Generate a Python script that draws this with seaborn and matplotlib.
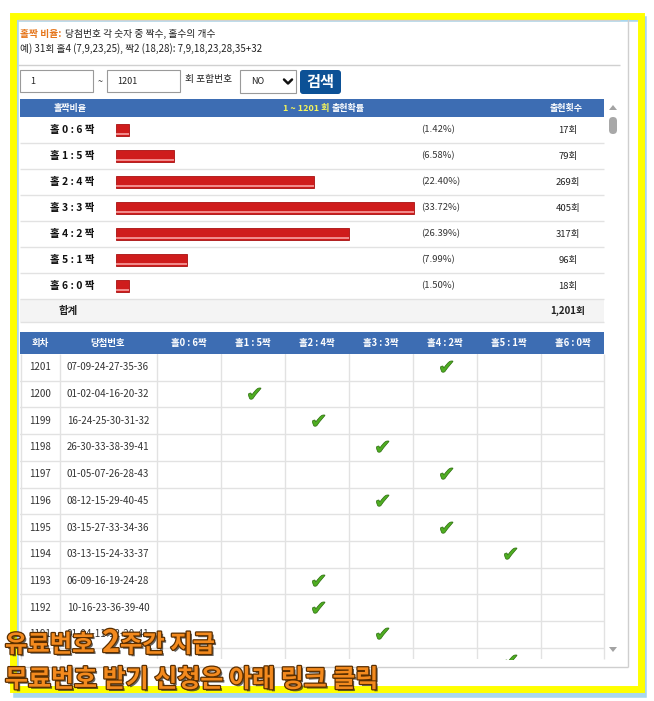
import matplotlib
matplotlib.use("Agg")
import matplotlib.pyplot as plt
import matplotlib.patheffects as pe
from matplotlib.patches import Rectangle, FancyBboxPatch, Polygon
from matplotlib.path import Path
from matplotlib.textpath import TextPath
from matplotlib.font_manager import FontProperties
from matplotlib.transforms import blended_transform_factory
import seaborn as sns

# ---- data ----
ratio_labels = ["홀 0 : 6 짝", "홀 1 : 5 짝", "홀 2 : 4 짝", "홀 3 : 3 짝",
                "홀 4 : 2 짝", "홀 5 : 1 짝", "홀 6 : 0 짝"]
ratio_pct = [1.42, 6.58, 22.40, 33.72, 26.39, 7.99, 1.50]
ratio_counts = [17, 79, 269, 405, 317, 96, 18]
total_count = 1201
range_from, range_to = 1, 1201

col_labels = ["홀0 : 6짝", "홀1 : 5짝", "홀2 : 4짝", "홀3 : 3짝",
              "홀4 : 2짝", "홀5 : 1짝", "홀6 : 0짝"]
draw_no = [1201, 1200, 1199, 1198, 1197, 1196, 1195, 1194, 1193, 1192, 1191, 1190]
draw_numbers = ["07-09-24-27-35-36", "01-02-04-16-20-32", "16-24-25-30-31-32",
                "26-30-33-38-39-41", "01-05-07-26-28-43", "08-12-15-29-40-45",
                "03-15-27-33-34-36", "03-13-15-24-33-37", "06-09-16-19-24-28",
                "10-16-23-36-39-40", "01-04-11-12-20-41", ""]
draw_odd = [4, 1, 2, 3, 4, 3, 4, 5, 2, 2, 3, 5]   # number of odd balls

# ---- style ----
sns.set_theme(style="white")
plt.rcParams["font.family"] = ["Noto Sans CJK KR", "DejaVu Sans"]

W, H = 654, 701
BLUE = "#3d6db3"
GRID = "#e2e2e2"

fig = plt.figure(figsize=(W / 100, H / 100), dpi=100)


def px_axes(x0, y0, x1, y1):
    return fig.add_axes([x0 / W, 1 - y1 / H, (x1 - x0) / W, (y1 - y0) / H])


bg = px_axes(0, 0, W, H)
bg.set_xlim(0, W)
bg.set_ylim(H, 0)
bg.axis("off")

# yellow frame with a light blue shadow
bg.add_patch(Rectangle((16, 19), 628, 676, fill=False, ec="#a9d7ee", lw=4))
bg.add_patch(Rectangle((12.5, 15.5), 628, 673, fill=False, ec="#ffff00", lw=5))
bg.vlines(628, 19, 667, color="#cfcfcf", lw=1)
bg.hlines(667, 16, 628, color="#cfcfcf", lw=1)

# intro text
bg.hlines([20, 65], 18, 620, color="#d0d0d0", lw=1)
bg.text(20, 34, "홀짝 비율:", color="#e5761c", fontsize=7, fontweight="bold", va="center")
bg.text(65, 34, "당첨번호 각 숫자 중 짝수, 홀수의 개수", color="#222222", fontsize=7, va="center")
bg.text(20, 49, "예) 31회 홀4 (7,9,23,25), 짝2 (18,28): 7,9,18,23,28,35+32",
        color="#222222", fontsize=7, va="center")

# search form
for x0, val in [(20, str(range_from)), (107, str(range_to))]:
    bg.add_patch(Rectangle((x0, 70), 73, 22, fc="white", ec="#9a9a9a", lw=0.8))
    bg.text(x0 + 10, 81.5, val, fontsize=6.5, va="center", color="#222222")
bg.text(100, 81.5, "~", fontsize=6.5, va="center", ha="center", color="#333333")
bg.text(185, 79, "회 포함번호", fontsize=7, va="center", color="#222222")
bg.add_patch(Rectangle((240, 70), 56, 23, fc="white", ec="#9a9a9a", lw=0.8))
bg.text(251, 82, "NO", fontsize=6.5, va="center", color="#222222")
bg.plot([284, 288, 292], [79.5, 83.5, 79.5], color="#111111", lw=1.8)
bg.add_patch(FancyBboxPatch((300, 70), 41, 24, boxstyle="round,pad=0,rounding_size=3",
                            fc="#0c5196", ec="none"))
bg.text(320.5, 81.5, "검색", fontsize=11, fontweight="bold", color="white",
        ha="center", va="center")

# summary table header
bg.add_patch(Rectangle((20, 99), 584, 18, fc=BLUE, ec="none"))
bg.text(70, 108, "홀짝비율", color="white", fontsize=6.5, fontweight="bold", ha="center", va="center")
bg.text(329, 108, f"{range_from} ~ {range_to} 회", color="#f4f45a", fontsize=6.5,
        fontweight="bold", ha="right", va="center")
bg.text(332, 108, "출현확률", color="white", fontsize=6.5, fontweight="bold", ha="left", va="center")
bg.text(566, 108, "출현횟수", color="white", fontsize=6.5, fontweight="bold", ha="center", va="center")

row_h = 26
bg.hlines([117 + row_h * (i + 1) for i in range(len(ratio_labels))], 20, 604, color=GRID, lw=1)
bg.add_patch(Rectangle((20, 299), 584, 23, fc="#f4f4f4", ec="none"))
bg.hlines(322, 20, 604, color=GRID, lw=1)
bg.text(68, 310.5, "합계", fontsize=7.5, fontweight="bold", ha="center", va="center", color="#222222")
bg.text(568, 310.5, f"{total_count:,}회", fontsize=7, fontweight="bold", ha="center",
        va="center", color="#222222")

# bars (seaborn)
bar_ax = px_axes(116, 117, 416, 299)
sns.barplot(x=ratio_pct, y=ratio_labels, orient="h", color="#cf1c1c", saturation=1,
            width=0.46, edgecolor="#a81010", linewidth=0.6, ax=bar_ax)
bar_ax.set_xlim(0, max(ratio_pct) * 300 / 298)
bar_ax.set_ylim(len(ratio_labels) - 0.5, -0.5)
bar_ax.axis("off")
for p in bar_ax.patches:
    bar_ax.add_patch(Rectangle((p.get_x(), p.get_y() + p.get_height() * 0.78),
                               p.get_width(), p.get_height() * 0.12,
                               fc="#f08a8a", ec="none"))

tr = blended_transform_factory(bg.transData, bar_ax.transData)
for i, (lab, pct, cnt) in enumerate(zip(ratio_labels, ratio_pct, ratio_counts)):
    bar_ax.text(72, i, lab, transform=tr, fontsize=7.5, fontweight="bold",
                ha="center", va="center", color="#111111", clip_on=False)
    bar_ax.text(421, i, f"({pct:.2f}%)", transform=tr, fontsize=6.8,
                ha="left", va="center", color="#333333", clip_on=False)
    bar_ax.text(568, i, f"{cnt}회", transform=tr, fontsize=6.8,
                ha="center", va="center", color="#222222", clip_on=False)

# draw table
col_w, col_x0 = 64, 157
tab = px_axes(20, 354, 604, 659)
tab.set_xlim((20 - col_x0) / col_w - 0.5, (604 - col_x0) / col_w - 0.5)
rows_visible = (659 - 354) / 26.7
tab.set_ylim(rows_visible - 0.5, -0.5)
tab.axis("off")

bg.add_patch(Rectangle((20, 332), 584, 22, fc=BLUE, ec="none"))
hdr_tr = blended_transform_factory(tab.transData, bg.transData)
bg.text(40, 343, "회차", color="white", fontsize=6.8, fontweight="bold", ha="center", va="center")
bg.text(108, 343, "당첨번호", color="white", fontsize=6.8, fontweight="bold", ha="center", va="center")
for k, lab in enumerate(col_labels):
    bg.text(k, 343, lab, transform=hdr_tr, color="white", fontsize=6.8,
            fontweight="bold", ha="center", va="center")

for i in range(len(draw_no)):
    tab.axhline(i + 0.5, color=GRID, lw=1)
for k in range(len(col_labels)):
    tab.axvline(k - 0.5, color=GRID, lw=1)
bg.vlines([20.5, 60, 604], 354, 659, color=GRID, lw=1)

row_tr = blended_transform_factory(bg.transData, tab.transData)
for i, (no, nums) in enumerate(zip(draw_no, draw_numbers)):
    if not nums:
        continue
    tab.text(40, i, str(no), transform=row_tr, fontsize=7, ha="center",
             va="center", color="#333333", clip_on=True)
    tab.text(108, i, nums, transform=row_tr, fontsize=7, ha="center",
             va="center", color="#333333", clip_on=True)

tp = TextPath((0, 0), "\u2714", size=1, prop=FontProperties(family="DejaVu Sans"))
v = tp.vertices
check = Path(v - (v.max(0) + v.min(0)) / 2, tp.codes)
sns.scatterplot(x=draw_odd, y=list(range(len(draw_odd))), marker=check, s=115,
                color="#4fae22", edgecolor="#2b6b0d", linewidth=0.5, ax=tab, legend=False)
tab.axis("off")

# scrollbar
bg.add_patch(Polygon([[609, 110], [617, 110], [613, 105]], fc="#a3a3a3", ec="none"))
bg.add_patch(FancyBboxPatch((609, 117), 8, 17, boxstyle="round,pad=0,rounding_size=4",
                            fc="#a8a8a8", ec="none"))
bg.add_patch(Polygon([[609, 647], [617, 647], [613, 652]], fc="#a3a3a3", ec="none"))

# promo overlay text
over = px_axes(0, 0, W, H)
over.set_xlim(0, W)
over.set_ylim(H, 0)
over.axis("off")
fx = [pe.SimplePatchShadow(offset=(1.5, -1.5), shadow_rgbFace="#222222", alpha=0.7),
      pe.Stroke(linewidth=1.8, foreground="#5a2e00"), pe.Normal()]
orange = "#f38a1e"
over.text(5, 645, "유료번호", fontsize=17.5, fontweight="bold", color=orange,
          va="center", path_effects=fx)
over.text(102, 643, "2", fontsize=22, fontweight="bold", color=orange,
          va="center", path_effects=fx)
over.text(120, 645, "주간 지급", fontsize=17.5, fontweight="bold", color=orange,
          va="center", path_effects=fx)
over.text(5, 680, "무료번호 받기 신청은 아래 링크 클릭", fontsize=18, fontweight="bold",
          color=orange, va="center", path_effects=fx)

fig.savefig("out.png", dpi=100)
